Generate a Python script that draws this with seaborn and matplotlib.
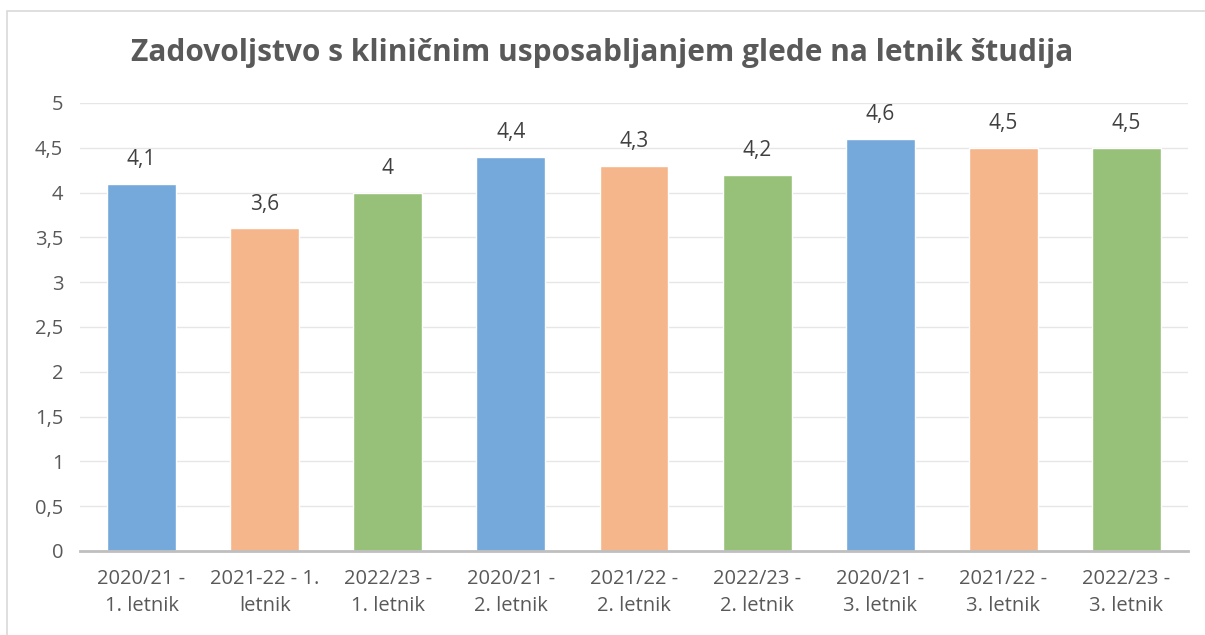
import numpy as np
import pandas as pd
import seaborn as sns
import matplotlib.pyplot as plt
from matplotlib.patches import Rectangle

categories = ['2020/21 -\n1. letnik', '2021-22 - 1.\nletnik', '2022/23 -\n1. letnik',
              '2020/21 -\n2. letnik', '2021/22 -\n2. letnik', '2022/23 -\n2. letnik',
              '2020/21 -\n3. letnik', '2021/22 -\n3. letnik', '2022/23 -\n3. letnik']
values = [4.1, 3.6, 4.0, 4.4, 4.3, 4.2, 4.6, 4.5, 4.5]
value_labels = ['4,1', '3,6', '4', '4,4', '4,3', '4,2', '4,6', '4,5', '4,5']
ytick_labels = ['0', '0,5', '1', '1,5', '2', '2,5', '3', '3,5', '4', '4,5', '5']
colors = ['#75A9DB', '#F5B68B', '#97C079'] * 3

df = pd.DataFrame({'cat': categories, 'val': values})

sns.set_style('white')
plt.rcParams['font.family'] = ['Open Sans', 'DejaVu Sans']

fig = plt.figure(figsize=(12.05, 6.35), dpi=100)
ax = fig.add_axes([80 / 1205, 1 - 551 / 635, 1108 / 1205, 448 / 635])

sns.barplot(data=df, x='cat', y='val', hue='cat', palette=colors, legend=False,
            width=0.56, ax=ax, saturation=1)

ax.set_ylim(0, 5)
ax.set_xlim(-0.5, len(categories) - 0.5)
ax.set_yticks(np.arange(0, 5.01, 0.5))
ax.set_yticklabels(ytick_labels)
ax.yaxis.grid(True, color='#E6E6E6', linewidth=1)
ax.set_axisbelow(True)
for s in ['top', 'right', 'left']:
    ax.spines[s].set_visible(False)
ax.spines['bottom'].set_color('#BFBFBF')
ax.spines['bottom'].set_linewidth(2)
ax.tick_params(axis='y', length=0, labelsize=14.5, colors='#595959', pad=12)
ax.tick_params(axis='x', length=0, labelsize=14.5, colors='#595959', pad=13)
for lbl in ax.get_xticklabels():
    lbl.set_linespacing(1.45)
ax.set_xlabel('')
ax.set_ylabel('')

for i, (v, t) in enumerate(zip(values, value_labels)):
    ax.annotate(t, (i, v), xytext=(0, 10), textcoords='offset points',
                ha='center', va='bottom', fontsize=15, color='#404040')

fig.text(0.5, 1 - 53 / 635, 'Zadovoljstvo s kliničnim usposabljanjem glede na letnik študija',
         ha='center', va='center', fontsize=21.5, fontweight='bold', color='#595959')

fig.patches.append(Rectangle((7 / 1205, -0.05), 1.1, 1 - 11 / 635 + 0.05,
                             transform=fig.transFigure, fill=False,
                             edgecolor='#D9D9D9', linewidth=1.2))

fig.savefig('out.png', dpi=100, facecolor='white')
